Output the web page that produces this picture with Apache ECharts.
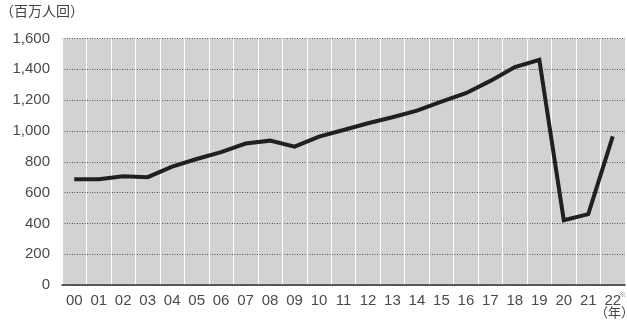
<!DOCTYPE html>
<html>
<head>
<meta charset="utf-8">
<script src="https://cdn.jsdelivr.net/npm/echarts@6/dist/echarts.min.js"></script>
<style>
  html, body { margin: 0; padding: 0; background: #fff; }
  #chart { width: 627px; height: 324px; }
</style>
</head>
<body>
<div id="chart"></div>
<script>
// Years (2000–2022) and passenger counts in millions
const years = ['00','01','02','03','04','05','06','07','08','09','10','11',
               '12','13','14','15','16','17','18','19','20','21','22'];
const passengers = [686, 686, 706, 700, 768, 818, 862, 918, 937, 898, 963, 1006,
                    1050, 1089, 1132, 1190, 1245, 1325, 1415, 1462, 420, 460, 965];
const yTicks = { min: 0, max: 1600, step: 200 };

const font = '"Liberation Sans", Arial, sans-serif';
const cjk = '"Noto Sans CJK JP", sans-serif';

const chart = echarts.init(document.getElementById('chart'), null, { renderer: 'canvas' });
chart.setOption({
  animation: false,
  grid: {
    left: 62, right: 2, top: 38.5, bottom: 39,
    show: true, backgroundColor: '#d1d2d4', borderWidth: 0
  },
  xAxis: {
    type: 'category',
    data: years,
    boundaryGap: true,
    axisLine: { show: true, lineStyle: { color: '#333', width: 1.5 } },
    axisTick: { show: false },
    axisLabel: { color: '#4a4a4a', fontFamily: font, fontSize: 15, margin: 8, interval: 0 },
    splitLine: { show: true, interval: 0, lineStyle: { color: '#fff', width: 1 } }
  },
  yAxis: {
    type: 'value',
    min: yTicks.min, max: yTicks.max, interval: yTicks.step,
    axisLine: { show: false },
    axisTick: { show: false },
    axisLabel: {
      color: '#4a4a4a', fontFamily: font, fontSize: 15, margin: 12,
      formatter: v => v.toLocaleString('en-US')
    },
    splitLine: { show: true, lineStyle: { color: '#555', width: 1, type: [1, 1.5] } }
  },
  series: [{
    type: 'line',
    data: passengers,
    symbol: 'none',
    lineStyle: { color: '#231f20', width: 4, join: 'miter' },
    z: 5
  }],
  graphic: [
    { type: 'text', left: 0, top: 4,
      style: { text: '（百万人回）', fill: '#444', font: '14px ' + cjk } },
    { type: 'text', left: 619, top: 291,
      style: { text: '※', fill: '#777', font: '7px ' + cjk } },
    { type: 'text', left: 595, top: 306,
      style: { text: '（年）', fill: '#444', font: '13px ' + cjk } }
  ]
});
</script>
</body>
</html>
